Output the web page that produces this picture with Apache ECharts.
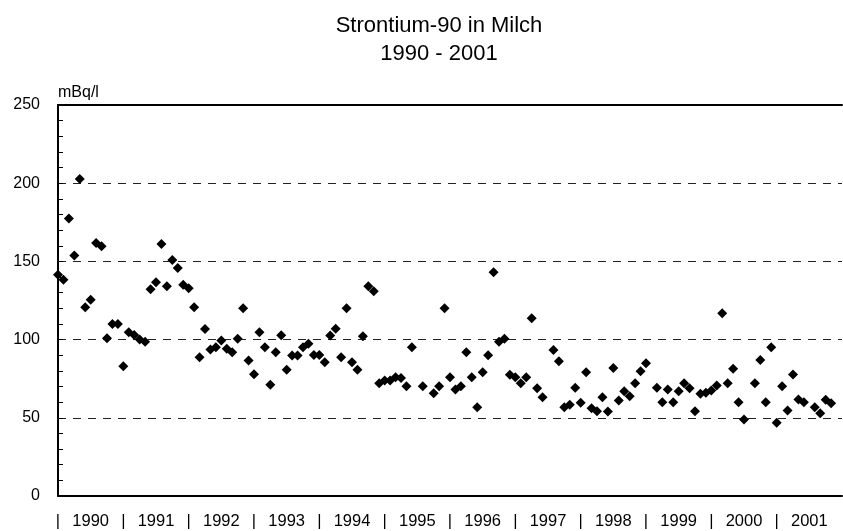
<!DOCTYPE html>
<html>
<head>
<meta charset="utf-8">
<script src="https://cdn.jsdelivr.net/npm/echarts@6/dist/echarts.min.js"></script>
<style>
  html, body { margin: 0; padding: 0; background: #fff; }
  #chart { width: 843px; height: 531px; }
</style>
</head>
<body>
<div id="chart"></div>
<script>
// Sampling month of each measurement (gaps = no sample that month)
const sampleMonths = [
  '1990-01','1990-02','1990-03','1990-04','1990-05','1990-06','1990-07','1990-08','1990-09','1990-10','1990-11','1990-12',
  '1991-01','1991-02','1991-03','1991-04','1991-05','1991-06','1991-07','1991-08','1991-09','1991-10','1991-11','1991-12',
  '1992-01','1992-02','1992-03','1992-04','1992-05','1992-06','1992-07','1992-08','1992-09','1992-10','1992-11','1992-12',
  '1993-01','1993-02','1993-03','1993-04','1993-05','1993-06','1993-07','1993-08','1993-09','1993-10','1993-11','1993-12',
  '1994-01','1994-02','1994-03','1994-04','1994-05','1994-06','1994-07','1994-08','1994-09','1994-10','1994-11','1994-12',
  '1995-01','1995-02','1995-03','1995-04','1995-05','1995-06','1995-08','1995-10','1995-11','1995-12',
  '1996-01','1996-02','1996-03','1996-04','1996-05','1996-06','1996-07','1996-08','1996-09','1996-10','1996-11','1996-12',
  '1997-01','1997-02','1997-03','1997-04','1997-05','1997-06','1997-08','1997-09','1997-10','1997-11','1997-12',
  '1998-01','1998-02','1998-03','1998-04','1998-05','1998-06','1998-07','1998-08','1998-09','1998-10','1998-11','1998-12',
  '1999-01','1999-03','1999-04','1999-05','1999-06','1999-07','1999-08','1999-09','1999-10','1999-11','1999-12',
  '2000-01','2000-02','2000-03','2000-04','2000-05','2000-06','2000-07','2000-09','2000-10','2000-11','2000-12',
  '2001-01','2001-02','2001-03','2001-04','2001-05','2001-06','2001-08','2001-09','2001-10','2001-11'
];

// Sr-90 activity in milk, mBq/l
const strontium90 = [
  141.4,138.2,177.5,153.7,202.7,120.7,125.4,161.8,159.7,100.9,110.0,110.0,
  83.0,104.7,103.0,100.0,98.7,132.2,136.6,161.2,134.1,150.9,145.8,135.0,
  132.8,120.7,88.7,106.8,93.6,95.1,99.4,94.1,91.9,100.5,120.0,86.6,
  77.8,104.7,95.1,71.1,91.9,102.8,80.8,89.8,89.8,95.1,97.3,90.2,
  90.2,85.5,102.6,106.9,88.7,120.0,85.5,80.8,102.1,134.1,130.9,72.1,
  73.8,73.8,75.9,75.5,70.2,95.1,70.2,65.7,70.2,120.0,
  75.9,68.1,70.2,91.9,75.9,56.8,79.1,90.0,143.0,98.7,100.5,77.5,
  75.9,72.1,75.9,113.6,68.9,63.1,93.4,86.2,56.8,58.3,69.2,
  59.6,79.1,56.1,54.2,63.1,54.0,81.9,61.0,67.0,63.8,72.1,79.8,
  84.9,69.2,60.0,68.1,60.0,67.0,72.1,68.9,54.2,65.3,66.0,
  67.4,70.6,116.8,72.1,81.3,60.0,48.9,72.1,87.0,60.0,95.1,
  46.8,70.2,54.6,77.7,61.7,60.0,56.8,52.9,61.5,59.3
];

// Year labels along the time axis
const years = ['1990','1991','1992','1993','1994','1995','1996','1997','1998','1999','2000','2001'];
const yTicks = [0, 50, 100, 150, 200, 250];

const startYear = 1990;
function monthIndex(s) {
  const [y, m] = s.split('-').map(Number);
  return (y - startYear) * 12 + (m - 1);
}
const points = sampleMonths.map((m, i) => [monthIndex(m), strontium90[i]]);

const FONT = '"Liberation Sans", Arial, Helvetica, sans-serif';
const chart = echarts.init(document.getElementById('chart'), null, { renderer: 'canvas' });

chart.setOption({
  animation: false,
  backgroundColor: '#ffffff',
  textStyle: { fontFamily: FONT },
  title: {
    text: 'Strontium-90 in Milch\n1990 - 2001',
    left: 434,
    top: 7,
    textAlign: 'center',
    textStyle: {
      fontFamily: FONT,
      fontSize: 22,
      fontWeight: 'normal',
      lineHeight: 28,
      color: '#000'
    }
  },
  grid: { left: 58, right: 1, top: 105, bottom: 35 },
  xAxis: [
    {
      type: 'value',
      min: 0,
      max: years.length * 12,
      interval: 6,
      axisLine: { show: true, onZero: false, lineStyle: { color: '#000', width: 2 } },
      axisTick: { show: false },
      splitLine: { show: false },
      axisLabel: {
        showMaxLabel: false,
        margin: 17,
        fontSize: 16.5,
        color: '#000',
        fontFamily: FONT,
        formatter: function (v) {
          if (v % 12 === 0) return '|';
          return years[(v - 6) / 12] || '';
        }
      }
    },
    {
      type: 'value',
      position: 'top',
      min: 0,
      max: years.length * 12,
      axisLine: { show: true, onZero: false, lineStyle: { color: '#000', width: 2 } },
      axisTick: { show: false },
      axisLabel: { show: false },
      splitLine: { show: false }
    }
  ],
  yAxis: {
    type: 'value',
    min: yTicks[0],
    max: yTicks[yTicks.length - 1],
    interval: 50,
    name: 'mBq/l',
    nameLocation: 'end',
    nameGap: 12,
    nameTextStyle: {
      align: 'left',
      verticalAlign: 'middle',
      fontSize: 16,
      color: '#000',
      fontFamily: FONT
    },
    axisLine: { show: true, onZero: false, lineStyle: { color: '#000', width: 2 } },
    axisTick: { show: true, inside: true, length: 5, lineStyle: { color: '#000', width: 1 } },
    minorTick: { show: true, splitNumber: 5, length: 5, lineStyle: { color: '#000', width: 1 } },
    axisLabel: {
      margin: 18,
      fontSize: 16,
      color: '#000',
      fontFamily: FONT
    },
    splitLine: {
      show: true,
      lineStyle: { color: '#222', width: 1, type: [8, 7] }
    }
  },
  series: [
    {
      type: 'scatter',
      data: points,
      symbol: 'diamond',
      symbolSize: 10,
      itemStyle: { color: '#000', opacity: 1 },
      xAxisIndex: 0
    }
  ]
});
</script>
</body>
</html>
